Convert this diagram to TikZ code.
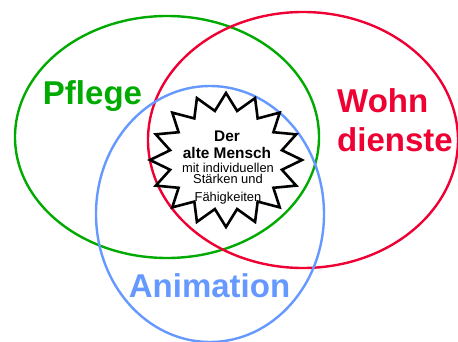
\documentclass[tikz,border=0pt]{standalone}
\usepackage{fontspec}
\setmainfont{Liberation Sans}
\definecolor{pflegegreen}{RGB}{0,170,0}
\definecolor{wohnred}{RGB}{238,0,51}
\definecolor{animblue}{RGB}{102,153,255}

\tikzset{
	kreis/.style={line width=2.4pt},
	bereich/.style={font=\fontsize{33}{39}\selectfont\bfseries, inner sep=0pt, anchor=base},
	stern/.style={draw=black, fill=white, line width=2.6pt, line join=miter},
	zeile/.style={inner sep=0pt, anchor=base, font=\fontsize{12.9}{13}\selectfont},
	zeilefett/.style={zeile, font=\fontsize{15.4}{17}\selectfont\bfseries},
}

\begin{document}
\begin{tikzpicture}[x=1pt, y=-1pt]
	\useasboundingbox (0,0) rectangle (458,342);
	% Bereiche
	\draw[kreis, pflegegreen] (167,137) ellipse [x radius=152, y radius=121];
	\draw[kreis, wohnred] (303,140) ellipse [x radius=155, y radius=128];
	\draw[kreis, animblue] (210,214) ellipse [x radius=114, y radius=128];
	% Stern in der Mitte
	\begin{scope}[shift={(226,160)}]
		\draw[stern] (90:76 and 67)
			\foreach \k in {0,...,15} { -- ({101.25+\k*22.5}:57 and 50) -- ({112.5+\k*22.5}:76 and 67) } -- cycle;
	\end{scope}
	% Texte
	\node[bereich, pflegegreen] (pflege) at (92.5,105) {Pflege};
	\node[bereich, wohnred, anchor=base west] (wohn) at (337,113) {Wohn};
	\node[bereich, wohnred, anchor=base west] (dienste) at (337,152) {dienste};
	\node[bereich, animblue] (animation) at (209.5,297) {Animation};
	\node[zeilefett] (der) at (227,142) {Der};
	\node[zeilefett] (mensch) at (227,159) {alte Mensch};
	\node[zeile] (indiv) at (228,172) {mit individuellen};
	\node[zeile] (staerken) at (228,184) {Stärken und};
	\node[zeile] (faehig) at (228,201) {Fähigkeiten};
\end{tikzpicture}
\end{document}
